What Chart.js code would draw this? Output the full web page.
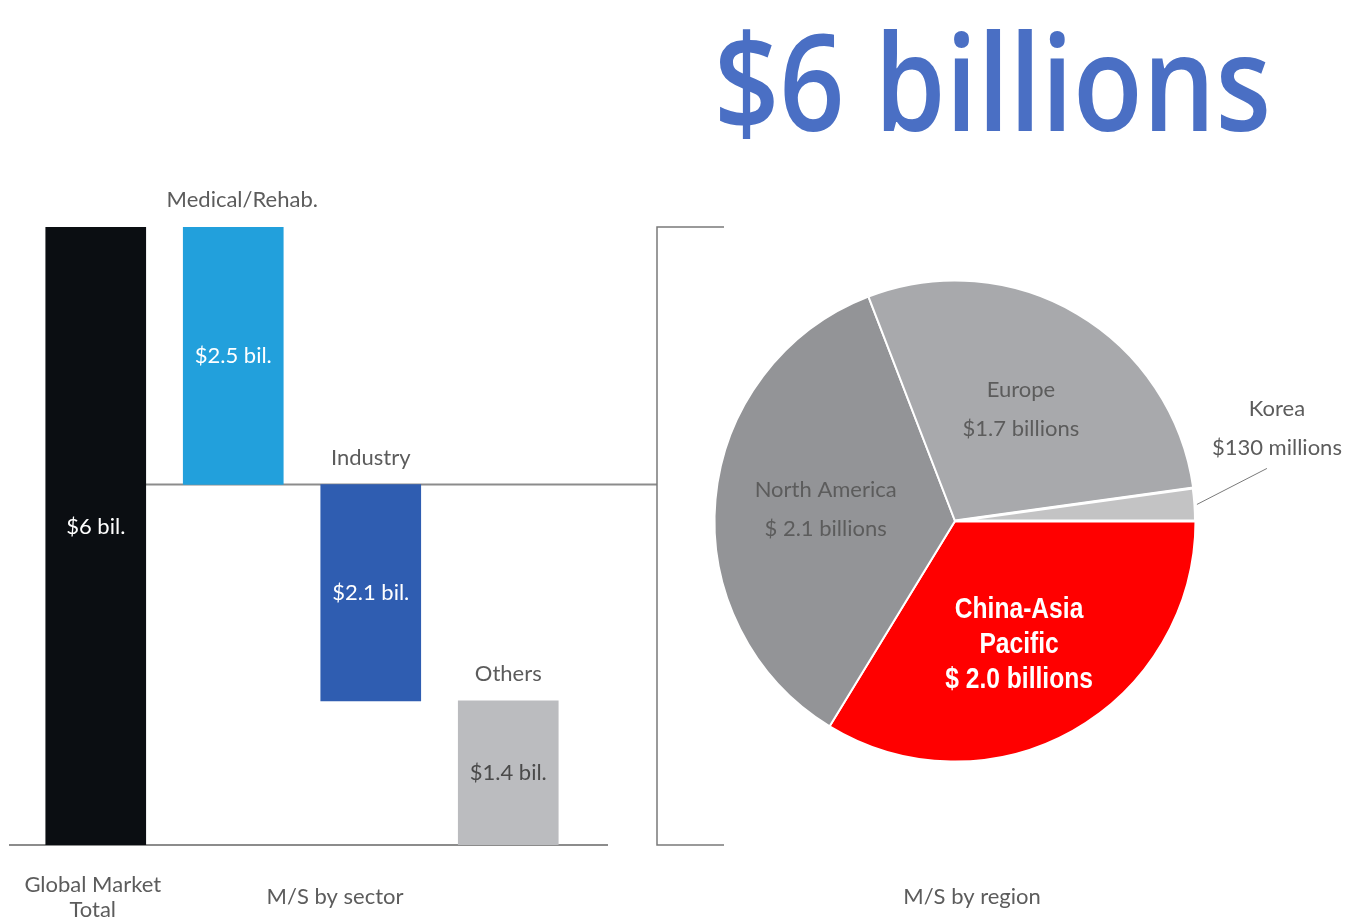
<!DOCTYPE html>
<html>
<head>
<meta charset="utf-8">
<script src="https://cdn.jsdelivr.net/npm/chart.js@4.4.1/dist/chart.umd.min.js"></script>
<style>
  html, body { margin: 0; padding: 0; background: #fff; }
  #page { position: relative; width: 1368px; height: 920px; overflow: hidden; }
  #headline {
    position: absolute; left: 714px; top: 12px;
    font-family: "Open Sans", sans-serif; font-weight: 600; font-size: 134px;
    line-height: 1; color: #4a6fc4; white-space: nowrap; transform-origin: left top;
  }
  canvas { position: absolute; top: 0; }
  #sectorChart { left: 0; }
  #regionChart { left: 680px; }
</style>
</head>
<body>
<div id="page">
  <div id="headline">$6 billions</div>
  <canvas id="sectorChart" width="740" height="920"></canvas>
  <canvas id="regionChart" width="688" height="920"></canvas>
</div>
<script>
// market size by sector (billions USD); first entry is the global total
const sectorNames = [['Global Market', 'Total'], 'Medical/Rehab.', 'Industry', 'Others'];
const sectorValues = [6, 2.5, 2.1, 1.4];
const sectorTags = ['$6 bil.', '$2.5 bil.', '$2.1 bil.', '$1.4 bil.'];
const sectorColors = ['#0b0e12', '#22a0dc', '#2f5db1', '#bbbcbf'];

// market size by region (billions USD)
const regionNames = ['China-Asia Pacific', 'North America', 'Europe', 'Korea'];
const regionValues = [2.0, 2.1, 1.7, 0.13];
const regionTags = [['China-Asia', 'Pacific', '$ 2.0 billions'], ['North America', '$ 2.1 billions'], ['Europe', '$1.7 billions'], ['Korea', '$130 millions']];
const regionColors = ['#ff0000', '#939497', '#a8a9ac', '#c3c3c4'];

const labelFont = '22px Lato, sans-serif';
const labelGray = '#5c5c5c';

// squeeze the headline to its column width
const headline = document.getElementById('headline');
headline.style.transform = `scaleX(${557 / headline.offsetWidth})`;

// waterfall: total bar, then each sector hangs from where the previous one ended
const ranges = [[0, sectorValues[0]]];
let level = sectorValues[0];
for (let i = 1; i < sectorValues.length; i++) {
    ranges.push([level - sectorValues[i], level]);
    level -= sectorValues[i];
}

const sectorDecor = {
    id: 'sectorDecor',
    beforeDatasetsDraw(chart) {
        const { ctx, chartArea } = chart;
        const y = chart.scales.y;
        const bars = chart.getDatasetMeta(0).data;
        const y0 = y.getPixelForValue(0);
        const yTop = y.getPixelForValue(sectorValues[0]);
        const yStep = y.getPixelForValue(ranges[1][0]);
        const bx = chartArea.right + 80;

        ctx.save();
        ctx.strokeStyle = '#8c8c8c';
        ctx.lineWidth = 2;
        ctx.beginPath();
        ctx.moveTo(chartArea.left - 18, y0);
        ctx.lineTo(chartArea.right + 31, y0);
        ctx.moveTo(bars[0].x + bars[0].width / 2, yStep);
        ctx.lineTo(bx, yStep);
        ctx.stroke();

        // bracket leading over to the regional split
        ctx.strokeStyle = '#7a7a7a';
        ctx.lineWidth = 1.5;
        ctx.beginPath();
        ctx.moveTo(bx + 67, yTop);
        ctx.lineTo(bx, yTop);
        ctx.lineTo(bx, y0);
        ctx.lineTo(bx + 67, y0);
        ctx.stroke();
        ctx.restore();
    },
    afterDatasetsDraw(chart) {
        const { ctx } = chart;
        const bars = chart.getDatasetMeta(0).data;
        const y0 = chart.scales.y.getPixelForValue(0);

        ctx.save();
        ctx.font = labelFont;
        ctx.textAlign = 'center';
        ctx.textBaseline = 'middle';
        bars.forEach((bar, i) => {
            const mid = (bar.y + bar.base) / 2;
            ctx.fillStyle = i === 3 ? '#4a4a4a' : '#ffffff';
            ctx.fillText(sectorTags[i], bar.x, i === 0 ? mid - 9 : mid);
            ctx.fillStyle = labelGray;
            if (i === 0) {
                sectorNames[0].forEach((line, k) => ctx.fillText(line, bar.x - 3, y0 + 40 + k * 25));
            } else {
                ctx.fillText(sectorNames[i], bar.x + (i === 1 ? 9 : 0), Math.min(bar.y, bar.base) - 27);
            }
        });
        ctx.fillText('M/S by sector', 335, y0 + 52);
        ctx.restore();
    }
};

new Chart(document.getElementById('sectorChart'), {
    type: 'bar',
    data: {
        labels: sectorNames,
        datasets: [{
            data: ranges,
            backgroundColor: sectorColors,
            borderSkipped: false,
            barThickness: 100
        }]
    },
    options: {
        responsive: false,
        animation: false,
        layout: { padding: { left: 27, right: 163, top: 227, bottom: 75 } },
        scales: {
            x: { display: false },
            y: { display: false, min: 0, max: 6 }
        },
        plugins: {
            legend: { display: false },
            tooltip: { enabled: false }
        }
    },
    plugins: [sectorDecor]
});

const regionDecor = {
    id: 'regionDecor',
    afterDatasetsDraw(chart) {
        const { ctx } = chart;
        const arcs = chart.getDatasetMeta(0).data;

        ctx.save();
        ctx.textAlign = 'center';
        ctx.textBaseline = 'middle';
        arcs.forEach((arc, i) => {
            const { x, y, startAngle, endAngle, outerRadius } = arc.getProps(['x', 'y', 'startAngle', 'endAngle', 'outerRadius'], true);
            const mid = (startAngle + endAngle) / 2;
            const lines = regionTags[i];

            if (i === 3) {
                // thin slice gets its label outside with a leader
                const ex = x + Math.cos(mid) * outerRadius;
                const ey = y + Math.sin(mid) * outerRadius;
                ctx.strokeStyle = '#7a7a7a';
                ctx.lineWidth = 1;
                ctx.beginPath();
                ctx.moveTo(ex + 2, ey);
                ctx.lineTo(ex + 72, ey - 36);
                ctx.stroke();
                ctx.font = labelFont;
                ctx.fillStyle = labelGray;
                ctx.fillText(lines[0], ex + 82, ey - 96);
                ctx.fillText(lines[1], ex + 82, ey - 57);
                return;
            }

            const r = outerRadius * (i === 0 ? 0.57 : 0.54);
            const cx = x + Math.cos(mid) * r - (i === 0 ? 3 : 0);
            const cy = y + Math.sin(mid) * r + (i === 0 ? 4 : 0);
            const top = cy - (lines.length - 1) * (i === 0 ? 35 : 39) / 2;
            if (i === 0) {
                // bold condensed white caption on the highlighted slice
                ctx.save();
                ctx.translate(cx, top);
                ctx.scale(0.82, 1);
                ctx.font = 'bold 30px "Liberation Sans", Arial, sans-serif';
                ctx.fillStyle = '#ffffff';
                lines.forEach((line, k) => ctx.fillText(line, 0, k * 35));
                ctx.restore();
            } else {
                ctx.font = labelFont;
                ctx.fillStyle = labelGray;
                lines.forEach((line, k) => ctx.fillText(line, cx, top + k * 39));
            }
        });

        ctx.font = labelFont;
        ctx.fillStyle = labelGray;
        ctx.fillText('M/S by region', 292, 897);
        ctx.restore();
    }
};

new Chart(document.getElementById('regionChart'), {
    type: 'pie',
    data: {
        labels: regionNames,
        datasets: [{
            data: regionValues,
            backgroundColor: regionColors,
            borderColor: '#ffffff',
            borderWidth: [2, 2, 2, 3]
        }]
    },
    options: {
        responsive: false,
        animation: false,
        rotation: 90,
        layout: { padding: { left: 33, right: 171, top: 279, bottom: 157 } },
        plugins: {
            legend: { display: false },
            tooltip: { enabled: false }
        }
    },
    plugins: [regionDecor]
});
</script>
</body>
</html>
